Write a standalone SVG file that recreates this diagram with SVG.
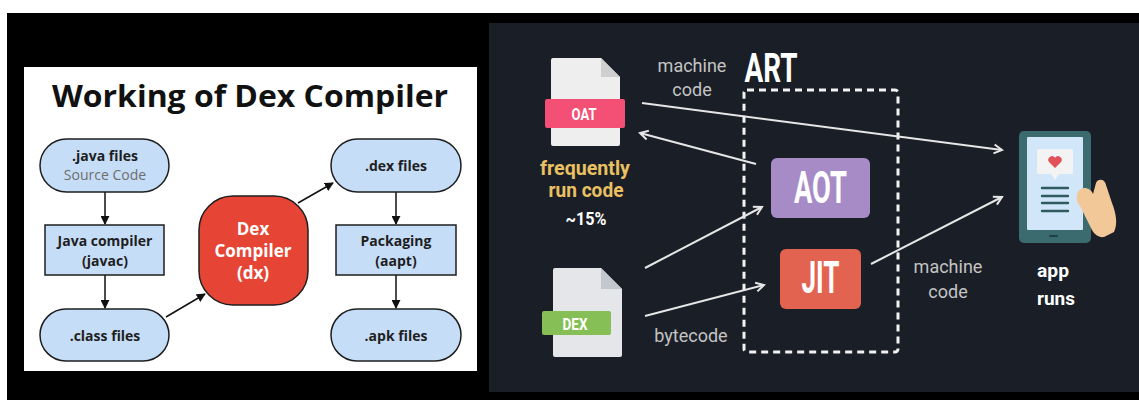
<svg xmlns="http://www.w3.org/2000/svg" width="1139" height="400" viewBox="0 0 1139 400">
  <style>
    .flow { fill: #c6ddf8; stroke: #1e1e1e; stroke-width: 1.5; }
    .lbl { font-family: "Open Sans", "Liberation Sans", sans-serif; font-size: 14px; font-weight: 700; fill: #1e1e1e; text-anchor: middle; }
    .sub { font-family: "Open Sans", "Liberation Sans", sans-serif; font-size: 14px; font-weight: 400; fill: #6d6d6d; text-anchor: middle; }
    .edge { stroke: #111; stroke-width: 1.5; fill: none; }
    .wire { stroke: #e6e6e6; stroke-width: 2; fill: none; }
    .cond { font-family: "Roboto", "Liberation Sans", sans-serif; font-weight: 700; text-anchor: middle; }
    .note { font-family: "Roboto", "Liberation Sans", sans-serif; font-size: 18px; font-weight: 400; fill: #c4c4c4; text-anchor: middle; }
  </style>
  <defs>
    <marker id="solid" viewBox="0 0 10 10" refX="9" refY="5" markerWidth="9" markerHeight="9" markerUnits="userSpaceOnUse" orient="auto">
      <path d="M0,0 L10,5 L0,10 Z" fill="#111"/>
    </marker>
    <marker id="chev" viewBox="0 0 12 12" refX="10" refY="6" markerWidth="12" markerHeight="12" markerUnits="userSpaceOnUse" orient="auto">
      <path d="M2,1.5 L10,6 L2,10.5" fill="none" stroke="#e6e6e6" stroke-width="2"/>
    </marker>
  </defs>

  <!-- backdrop -->
  <rect x="0" y="0" width="1139" height="400" fill="#ffffff"/>
  <rect x="7" y="13" width="1132" height="387" fill="#000000"/>
  <rect x="489" y="23" width="650" height="369" fill="#1a1e26"/>

  <!-- left panel: dex compiler flow -->
  <rect x="24" y="67" width="453" height="304" fill="#ffffff"/>
  <text x="250" y="107" font-family="'Open Sans', 'Liberation Sans', sans-serif" font-size="31" font-weight="700" fill="#111" text-anchor="middle" textLength="396" lengthAdjust="spacingAndGlyphs">Working of Dex Compiler</text>

  <g id="connectors-left">
    <line class="edge" x1="105" y1="192" x2="105" y2="224" marker-end="url(#solid)"/>
    <line class="edge" x1="105" y1="275" x2="105" y2="308" marker-end="url(#solid)"/>
    <line class="edge" x1="166" y1="317" x2="205" y2="294" marker-end="url(#solid)"/>
    <line class="edge" x1="298" y1="203" x2="333" y2="183" marker-end="url(#solid)"/>
    <line class="edge" x1="396" y1="192" x2="396" y2="224" marker-end="url(#solid)"/>
    <line class="edge" x1="396" y1="275" x2="396" y2="308" marker-end="url(#solid)"/>
  </g>

  <g id="java-files">
    <rect class="flow" x="40" y="139" width="129" height="53" rx="26.5"/>
    <text class="lbl" x="105" y="161">.java files</text>
    <text class="sub" x="105" y="180">Source Code</text>
  </g>
  <g id="java-compiler">
    <rect class="flow" x="45" y="225" width="119" height="50"/>
    <text class="lbl" x="105" y="246">Java compiler</text>
    <text class="lbl" x="105" y="266">(javac)</text>
  </g>
  <g id="class-files">
    <rect class="flow" x="40" y="309" width="129" height="52" rx="26"/>
    <text class="lbl" x="105" y="341">.class files</text>
  </g>
  <g id="dex-compiler">
    <rect x="199" y="196" width="109" height="109" rx="34" fill="#e64535" stroke="#1e1e1e" stroke-width="1.5"/>
    <text x="253" y="235" font-family="'Open Sans', 'Liberation Sans', sans-serif" font-size="17" font-weight="700" fill="#ffffff" text-anchor="middle">Dex</text>
    <text x="253" y="257" font-family="'Open Sans', 'Liberation Sans', sans-serif" font-size="17" font-weight="700" fill="#ffffff" text-anchor="middle">Compiler</text>
    <text x="253" y="279" font-family="'Open Sans', 'Liberation Sans', sans-serif" font-size="17" font-weight="700" fill="#ffffff" text-anchor="middle">(dx)</text>
  </g>
  <g id="dex-files">
    <rect class="flow" x="331" y="139" width="130" height="53" rx="26.5"/>
    <text class="lbl" x="396" y="171">.dex files</text>
  </g>
  <g id="packaging">
    <rect class="flow" x="336" y="225" width="120" height="50"/>
    <text class="lbl" x="396" y="246">Packaging</text>
    <text class="lbl" x="396" y="266">(aapt)</text>
  </g>
  <g id="apk-files">
    <rect class="flow" x="331" y="309" width="130" height="52" rx="26"/>
    <text class="lbl" x="396" y="341">.apk files</text>
  </g>

  <!-- right panel: ART runtime -->
  <g id="art-boundary">
    <rect x="744" y="90" width="154" height="262" rx="3" fill="none" stroke="#f2f2f2" stroke-width="3" stroke-dasharray="7 5"/>
    <text class="cond" x="771" y="82" font-size="40" fill="#ffffff" textLength="53" lengthAdjust="spacingAndGlyphs">ART</text>
  </g>

  <g id="connectors-right">
    <line class="wire" x1="642" y1="103" x2="1002" y2="150" marker-end="url(#chev)"/>
    <line class="wire" x1="756" y1="164" x2="640" y2="133" marker-end="url(#chev)"/>
    <line class="wire" x1="645" y1="268" x2="762" y2="207" marker-end="url(#chev)"/>
    <line class="wire" x1="645" y1="316" x2="764" y2="285" marker-end="url(#chev)"/>
    <line class="wire" x1="871" y1="264" x2="1002" y2="197" marker-end="url(#chev)"/>
  </g>

  <g id="oat-file">
    <path d="M553,58 H601 L620,77 V144 a2,2 0 0 1 -2,2 H553 a2,2 0 0 1 -2,-2 V60 a2,2 0 0 1 2,-2 Z" fill="#eeeeee"/>
    <path d="M601,58 V77 H620 Z" fill="#cfcfcf"/>
    <rect x="545" y="99" width="80" height="29" rx="2" fill="#f44f75"/>
    <text class="cond" x="584" y="120" font-size="17" fill="#ffffff" textLength="25" lengthAdjust="spacingAndGlyphs">OAT</text>
    <text class="cond" x="585" y="175" font-size="21" fill="#e9c062" textLength="90" lengthAdjust="spacingAndGlyphs">frequently</text>
    <text class="cond" x="586" y="197" font-size="21" fill="#e9c062" textLength="75" lengthAdjust="spacingAndGlyphs">run code</text>
    <text class="cond" x="586" y="225" font-size="18" fill="#ffffff" textLength="41" lengthAdjust="spacingAndGlyphs">~15%</text>
  </g>

  <g id="dex-file">
    <path d="M555,268 H601 L622,289 V355 a2,2 0 0 1 -2,2 H555 a2,2 0 0 1 -2,-2 V270 a2,2 0 0 1 2,-2 Z" fill="#e4e6ea"/>
    <path d="M601,268 V289 H622 Z" fill="#c4c7cd"/>
    <rect x="542" y="311" width="69" height="24" rx="2" fill="#86bf55"/>
    <text class="cond" x="575" y="330" font-size="17" fill="#ffffff" textLength="25" lengthAdjust="spacingAndGlyphs">DEX</text>
  </g>

  <g id="aot">
    <rect x="771" y="158" width="99" height="60" rx="6" fill="#a68bc7"/>
    <text class="cond" x="820.5" y="203" font-size="44" fill="#ffffff" textLength="53" lengthAdjust="spacingAndGlyphs">AOT</text>
  </g>
  <g id="jit">
    <rect x="780" y="249" width="81" height="60" rx="6" fill="#e2634f"/>
    <text class="cond" x="820.5" y="293" font-size="44" fill="#ffffff" textLength="38" lengthAdjust="spacingAndGlyphs">JIT</text>
  </g>

  <g id="edge-labels">
    <text class="note" x="692" y="72">machine</text>
    <text class="note" x="692" y="96">code</text>
    <text class="note" x="691" y="342">bytecode</text>
    <text class="note" x="948" y="273">machine</text>
    <text class="note" x="948" y="298">code</text>
  </g>

  <g id="phone">
    <rect x="1019" y="131" width="72" height="112" rx="5" fill="#3b6b6e"/>
    <rect x="1027" y="137" width="56" height="93" rx="1" fill="#d2e6fa"/>
    <rect x="1049" y="235" width="9" height="2" rx="1" fill="#1f3f42"/>
    <path d="M1039,149 H1071 a2,2 0 0 1 2,2 V172 a2,2 0 0 1 -2,2 H1059 L1055,180 L1051,174 H1039 a2,2 0 0 1 -2,-2 V151 a2,2 0 0 1 2,-2 Z" fill="#f3f3f3"/>
    <path d="M1055,168 L1049,162 a3.3,3.3 0 0 1 6,-4.2 a3.3,3.3 0 0 1 6,4.2 Z" fill="#e2505a"/>
    <g stroke="#2f5a5e" stroke-width="2.4" stroke-linecap="round">
      <line x1="1042" y1="188" x2="1068" y2="188"/>
      <line x1="1042" y1="196" x2="1068" y2="196"/>
      <line x1="1042" y1="203" x2="1068" y2="203"/>
      <line x1="1042" y1="211" x2="1068" y2="211"/>
    </g>
    <path d="M1078,192 C1081,186 1090,187 1093,194 L1096,183 C1098,178 1105,179 1106,185 L1112,203 C1116,213 1118,224 1114,232 L1104,237 C1098,238 1093,233 1091,228 L1080,206 C1076,201 1076,196 1078,192 Z" fill="#f2c898"/>
    <text x="1037" y="277" font-family="Roboto, 'Liberation Sans', sans-serif" font-size="19" font-weight="700" fill="#ffffff" textLength="32" lengthAdjust="spacingAndGlyphs">app</text>
    <text x="1037" y="305" font-family="Roboto, 'Liberation Sans', sans-serif" font-size="19" font-weight="700" fill="#ffffff" textLength="38" lengthAdjust="spacingAndGlyphs">runs</text>
  </g>
</svg>
